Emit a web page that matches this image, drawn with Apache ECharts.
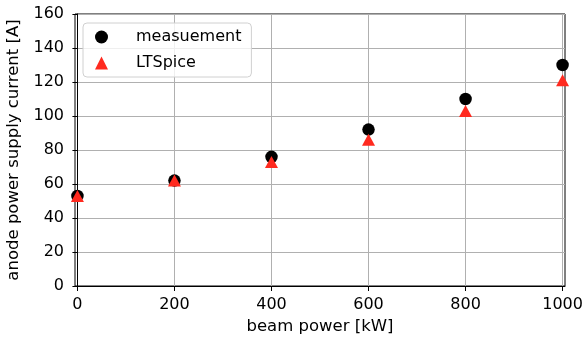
<!DOCTYPE html>
<html><head><meta charset="utf-8">
<script src="https://cdn.jsdelivr.net/npm/echarts@6/dist/echarts.min.js"></script>
<style>html,body{margin:0;padding:0;background:#fff}#c{width:583px;height:337px}</style>
</head><body><div id="c"></div>
<script>
const xTicks = [0, 200, 400, 600, 800, 1000];
const beamPower = [0, 200, 400, 600, 800, 1000];
const measurement = [53, 62, 76, 92, 110, 130];
const ltspice = [53, 62, 73, 86, 103, 121];
const font = 'DejaVu Sans';
const chart = echarts.init(document.getElementById('c'));
chart.setOption({
  animation: false,
  grid: { left: 75, right: 18, top: 14, bottom: 51, show: true, borderColor: '#000', borderWidth: 1, containLabel: false, outerBoundsMode: 'none' },
  legend: {
    left: 83, top: 23, orient: 'vertical',
    backgroundColor: 'rgba(255,255,255,0.8)', borderColor: '#d0d0d0', borderWidth: 1, borderRadius: 4,
    padding: [6, 10, 6, 12], itemGap: 10, itemWidth: 13, itemHeight: 13,
    textStyle: { fontFamily: font, fontSize: 16, color: '#000', padding: [0, 0, 0, 23] },
    data: ['measuement', 'LTSpice']
  },
  xAxis: {
    type: 'value', min: -5, max: 1005,
    name: 'beam power [kW]', nameLocation: 'middle', nameGap: 32,
    nameTextStyle: { fontFamily: font, fontSize: 16.5, color: '#000' },
    axisLine: { show: true, lineStyle: { color: '#000', width: 1 } },
    axisTick: { show: true, inside: false, length: 5, customValues: xTicks, lineStyle: { color: '#000' } },
    axisLabel: { fontFamily: font, fontSize: 16, color: '#000', margin: 11, customValues: xTicks, formatter: v => String(v) },
    splitLine: { show: true, customValues: xTicks, lineStyle: { color: '#b0b0b0', width: 1 } }
  },
  yAxis: {
    type: 'value', min: 0, max: 160, interval: 20,
    name: 'anode power supply current [A]', nameLocation: 'middle', nameGap: 47,
    nameTextStyle: { fontFamily: font, fontSize: 16.5, color: '#000' },
    axisLine: { show: true, lineStyle: { color: '#000', width: 1 } },
    axisTick: { show: true, inside: false, length: 5, lineStyle: { color: '#000' } },
    axisLabel: { fontFamily: font, fontSize: 16, color: '#000', margin: 11 },
    splitLine: { show: true, lineStyle: { color: '#b0b0b0', width: 1 } }
  },
  series: [
    { name: 'measuement', type: 'scatter', symbol: 'circle', symbolSize: 12.5, clip: true,
      itemStyle: { color: '#000', opacity: 1 }, data: beamPower.map((x, i) => [x, measurement[i]]) },
    { name: 'LTSpice', type: 'scatter', symbol: 'triangle', symbolSize: [13, 12], clip: true,
      itemStyle: { color: '#ff2a1f', opacity: 1 }, data: beamPower.map((x, i) => [x, ltspice[i]]) }
  ]
});
</script></body></html>
